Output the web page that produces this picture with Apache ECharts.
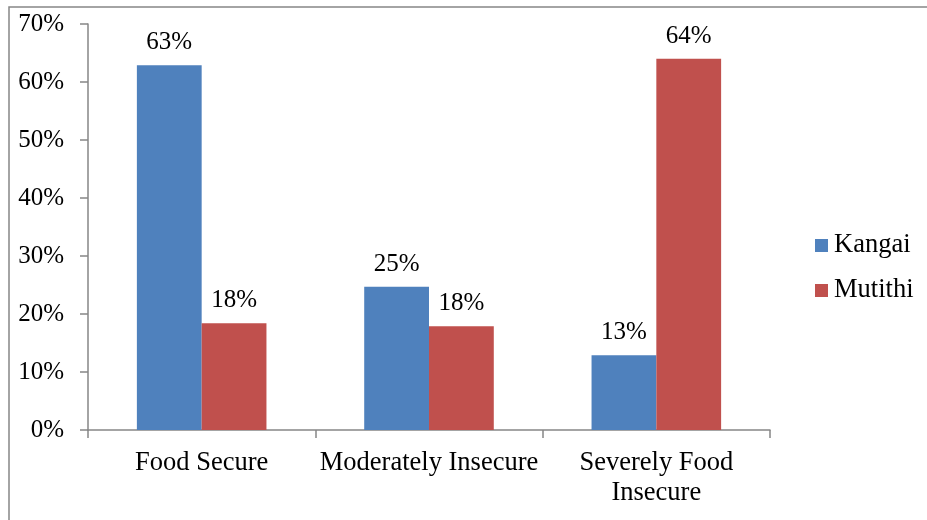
<!DOCTYPE html>
<html>
<head>
<meta charset="utf-8">
<script src="https://cdn.jsdelivr.net/npm/echarts@6/dist/echarts.min.js"></script>
<style>
  html, body { margin: 0; padding: 0; background: #fff; }
  #chart { width: 927px; height: 520px; }
</style>
</head>
<body>
<div id="chart"></div>
<script>
// Food security status by village (share of households, %)
const categories = ['Food Secure', 'Moderately Insecure', 'Severely Food\nInsecure'];
const kangai = [62.9, 24.7, 12.9];
const mutithi = [18.4, 17.9, 64.0];
const yTicks = [0, 10, 20, 30, 40, 50, 60, 70];

const font = 'Liberation Serif, Times New Roman, serif';
const axisGrey = '#868686';
const fs = 25;
const fsCat = 26.5;

const chart = echarts.init(document.getElementById('chart'));

const labelStyle = {
  show: true,
  position: 'top',
  distance: 10,
  color: '#000',
  fontFamily: font,
  fontSize: fs,
  formatter: p => Math.round(p.value) + '%'
};

chart.setOption({
  animation: false,
  graphic: [{
    type: 'rect',
    shape: { x: 9, y: 7, width: 1000, height: 600 },
    style: { fill: 'none', stroke: axisGrey, lineWidth: 1.5 },
    silent: true
  }],
  grid: { left: 88, right: 157, top: 24, bottom: 90 },
  legend: {
    orient: 'vertical',
    left: 810,
    top: 227,
    itemWidth: 13,
    itemHeight: 13,
    itemGap: 18,
    icon: 'rect',
    textStyle: { fontFamily: font, fontSize: fsCat, color: '#000', padding: [0, 0, 0, 1] },
    data: ['Kangai', 'Mutithi']
  },
  xAxis: {
    type: 'category',
    data: categories,
    axisLine: { lineStyle: { color: axisGrey, width: 1.5 } },
    axisTick: { show: true, length: 8, lineStyle: { color: axisGrey, width: 1.5 } },
    axisLabel: {
      color: '#000',
      fontFamily: font,
      fontSize: fsCat,
      margin: 18,
      lineHeight: 30,
      interval: 0
    }
  },
  yAxis: {
    type: 'value',
    min: yTicks[0],
    max: yTicks[yTicks.length - 1],
    interval: 10,
    splitLine: { show: false },
    axisLine: { show: true, lineStyle: { color: axisGrey, width: 1.5 } },
    axisTick: { show: true, length: 8, lineStyle: { color: axisGrey, width: 1.5 } },
    axisLabel: {
      color: '#000',
      fontFamily: font,
      fontSize: fs,
      margin: 24,
      formatter: v => v + '%'
    }
  },
  series: [
    {
      name: 'Kangai',
      type: 'bar',
      data: kangai,
      barGap: '0%',
      barCategoryGap: '43%',
      itemStyle: { color: '#4F81BD' },
      label: labelStyle
    },
    {
      name: 'Mutithi',
      type: 'bar',
      data: mutithi,
      itemStyle: { color: '#C0504D' },
      label: labelStyle
    }
  ]
});
</script>
</body>
</html>
